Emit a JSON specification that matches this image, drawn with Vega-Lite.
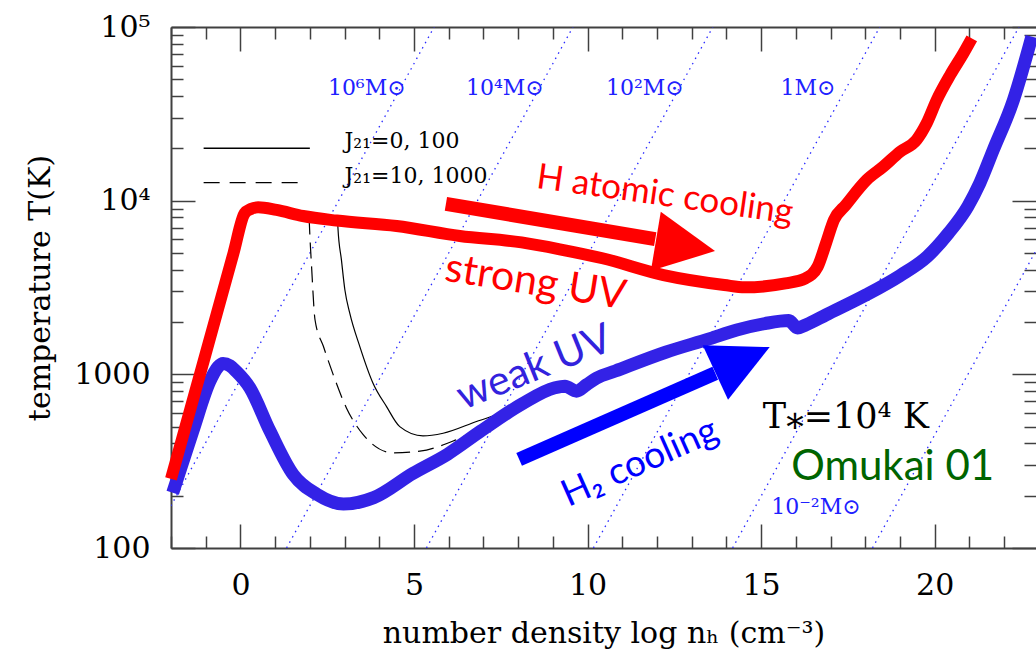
{
  "$schema": "https://vega.github.io/schema/vega-lite/v6.json",
  "width": 865,
  "height": 521,
  "autosize": {"type": "none"},
  "padding": {"left": 171, "top": 27, "right": 0, "bottom": 116},
  "background": "white",
  "config": {"view": {"stroke": null}},
  "resolve": {"axis": {"x": "independent", "y": "independent"}},
  "datasets": {
    "jeans": [
      {"id": "a", "x": -2.67, "T": 100}, {"id": "a", "x": 5.58, "T": 100000},
      {"id": "b", "x": 1.33, "T": 100}, {"id": "b", "x": 9.58, "T": 100000},
      {"id": "c", "x": 5.36, "T": 100}, {"id": "c", "x": 13.61, "T": 100000},
      {"id": "d", "x": 10.17, "T": 100}, {"id": "d", "x": 18.42, "T": 100000},
      {"id": "e", "x": 14.18, "T": 100}, {"id": "e", "x": 22.43, "T": 100000},
      {"id": "f", "x": 18.21, "T": 100}, {"id": "f", "x": 26.46, "T": 100000}
    ],
    "red": [
      {"x": -2.0, "T": 250}, {"x": -1.0, "T": 1315}, {"x": -0.2, "T": 4980}, {"x": 0.12, "T": 8450},
      {"x": 0.3, "T": 8950}, {"x": 0.51, "T": 9160}, {"x": 1.04, "T": 8840}, {"x": 1.8, "T": 8160},
      {"x": 2.77, "T": 7680}, {"x": 4.5, "T": 7150}, {"x": 6.32, "T": 6260}, {"x": 8.1, "T": 5750},
      {"x": 9.2, "T": 5250}, {"x": 10.43, "T": 4660}, {"x": 12.19, "T": 3730}, {"x": 13.94, "T": 3270},
      {"x": 14.53, "T": 3170}, {"x": 15.7, "T": 3340}, {"x": 16.28, "T": 3570}, {"x": 16.63, "T": 4170},
      {"x": 16.87, "T": 5690}, {"x": 17.1, "T": 7750}, {"x": 17.44, "T": 9440}, {"x": 18.04, "T": 13150},
      {"x": 18.52, "T": 15700}, {"x": 19.0, "T": 19100}, {"x": 19.48, "T": 22400}, {"x": 19.77, "T": 27900},
      {"x": 20.06, "T": 38000}, {"x": 20.45, "T": 53000}, {"x": 20.83, "T": 70600}, {"x": 21.07, "T": 86000}
    ],
    "blue": [
      {"x": -1.95, "T": 208}, {"x": -1.37, "T": 472}, {"x": -0.88, "T": 912}, {"x": -0.65, "T": 1100},
      {"x": -0.5, "T": 1156}, {"x": -0.3, "T": 1120}, {"x": -0.12, "T": 1040}, {"x": 0.27, "T": 837},
      {"x": 0.85, "T": 472}, {"x": 1.52, "T": 265}, {"x": 2.2, "T": 204}, {"x": 2.97, "T": 179},
      {"x": 3.84, "T": 195}, {"x": 4.97, "T": 269}, {"x": 5.97, "T": 347}, {"x": 6.93, "T": 472},
      {"x": 8.09, "T": 671}, {"x": 9.06, "T": 837}, {"x": 9.35, "T": 855}, {"x": 9.68, "T": 800},
      {"x": 9.97, "T": 871}, {"x": 10.26, "T": 951}, {"x": 10.8, "T": 1045}, {"x": 12.25, "T": 1340},
      {"x": 13.5, "T": 1600}, {"x": 14.3, "T": 1800}, {"x": 15.11, "T": 1960}, {"x": 15.8, "T": 2040},
      {"x": 16.05, "T": 1850}, {"x": 16.3, "T": 1930}, {"x": 16.87, "T": 2200}, {"x": 18.03, "T": 2870},
      {"x": 19.0, "T": 3700}, {"x": 19.79, "T": 4770}, {"x": 20.4, "T": 6500}, {"x": 20.96, "T": 9300},
      {"x": 21.3, "T": 12600}, {"x": 21.69, "T": 19600}, {"x": 22.27, "T": 38000}, {"x": 22.8, "T": 88000}
    ],
    "solid": [
      {"x": 2.8, "T": 7650}, {"x": 2.81, "T": 6930}, {"x": 2.91, "T": 4560}, {"x": 3.01, "T": 3060},
      {"x": 3.15, "T": 2250}, {"x": 3.44, "T": 1445}, {"x": 3.82, "T": 889}, {"x": 4.21, "T": 652},
      {"x": 4.59, "T": 500}, {"x": 5.26, "T": 442}, {"x": 5.84, "T": 458}, {"x": 6.8, "T": 535},
      {"x": 7.76, "T": 624}, {"x": 8.3, "T": 700}
    ],
    "dashed": [
      {"x": 1.98, "T": 7900}, {"x": 2.0, "T": 6350}, {"x": 2.05, "T": 4170}, {"x": 2.15, "T": 2055},
      {"x": 2.39, "T": 1450}, {"x": 2.67, "T": 1000}, {"x": 3.05, "T": 643}, {"x": 3.53, "T": 451},
      {"x": 4.4, "T": 353}, {"x": 5.17, "T": 361}, {"x": 6.13, "T": 413}, {"x": 7.28, "T": 538},
      {"x": 7.7, "T": 590}
    ]
  },
  "encoding": {
    "x": {"field": "x", "type": "quantitative", "scale": {"domain": [-2, 22.92], "nice": false, "zero": false}, "axis": null},
    "y": {"field": "T", "type": "quantitative", "scale": {"type": "log", "domain": [100, 100000], "nice": false}, "axis": null}
  },
  "layer": [
    {
      "data": {"name": "jeans"},
      "mark": {"type": "line", "clip": true, "color": "#2a2aff", "strokeWidth": 1.3, "strokeDash": [1.5, 4.5]},
      "encoding": {
        "detail": {"field": "id"},
        "x": {"field": "x", "type": "quantitative", "scale": {"domain": [-2, 22.92], "nice": false, "zero": false},
          "axis": {"orient": "bottom", "values": [-2,-1,0,1,2,3,4,5,6,7,8,9,10,11,12,13,14,15,16,17,18,19,20,21,22],
            "labelExpr": "datum.value % 5 === 0 ? datum.label : ''",
            "tickSize": {"condition": {"test": "datum.value % 5 === 0", "value": -24}, "value": -12},
            "labelPadding": 46, "labelFont": "DejaVu Serif", "labelFontSize": 30, "labelColor": "black",
            "grid": false, "domainColor": "#404040", "domainWidth": 2, "tickColor": "#404040", "tickWidth": 1.5,
            "title": "number density log nₕ (cm⁻³)", "titleFont": "DejaVu Serif", "titleFontSize": 30,
            "titleFontWeight": "normal", "titleColor": "black", "titlePadding": 18}},
        "y": {"field": "T", "type": "quantitative", "scale": {"type": "log", "domain": [100, 100000], "nice": false},
          "axis": {"orient": "left",
            "values": [100,200,300,400,500,600,700,800,900,1000,2000,3000,4000,5000,6000,7000,8000,9000,10000,20000,30000,40000,50000,60000,70000,80000,90000,100000],
            "labelExpr": "datum.value == 100 ? '100' : datum.value == 1000 ? '1000' : datum.value == 10000 ? '10⁴' : datum.value == 100000 ? '10⁵' : ''",
            "tickSize": {"condition": {"test": "datum.value == 100 || datum.value == 1000 || datum.value == 10000 || datum.value == 100000", "value": -24}, "value": -12},
            "labelPadding": 45, "labelFont": "DejaVu Serif", "labelFontSize": 30, "labelColor": "black",
            "grid": false, "domainColor": "#404040", "domainWidth": 2, "tickColor": "#404040", "tickWidth": 1.5,
            "title": "temperature T(K)", "titleFont": "DejaVu Serif", "titleFontSize": 30,
            "titleFontWeight": "normal", "titleColor": "black", "titlePadding": 18}}
      }
    },
    {
      "data": {"name": "solid"},
      "mark": {"type": "line", "color": "black", "strokeWidth": 1.2, "interpolate": "monotone"},
      "encoding": {
        "x": {"field": "x", "type": "quantitative", "scale": {"domain": [-2, 22.92], "nice": false, "zero": false},
          "axis": {"orient": "top", "values": [-2,-1,0,1,2,3,4,5,6,7,8,9,10,11,12,13,14,15,16,17,18,19,20,21,22],
            "labels": false, "title": null,
            "tickSize": {"condition": {"test": "datum.value % 5 === 0", "value": -24}, "value": -12},
            "grid": false, "domainColor": "#404040", "domainWidth": 2, "tickColor": "#404040", "tickWidth": 1.5}},
        "y": {"field": "T", "type": "quantitative", "scale": {"type": "log", "domain": [100, 100000], "nice": false},
          "axis": {"orient": "right",
            "values": [100,200,300,400,500,600,700,800,900,1000,2000,3000,4000,5000,6000,7000,8000,9000,10000,20000,30000,40000,50000,60000,70000,80000,90000,100000],
            "labels": false, "title": null, "domain": false,
            "tickSize": {"condition": {"test": "datum.value == 100 || datum.value == 1000 || datum.value == 10000 || datum.value == 100000", "value": -24}, "value": -12},
            "grid": false, "tickColor": "#404040", "tickWidth": 1.5}}
      }
    },
    {
      "data": {"name": "dashed"},
      "mark": {"type": "line", "color": "black", "strokeWidth": 1.2, "interpolate": "monotone", "strokeDash": [16, 8]}
    },
    {
      "data": {"values": [{"x": -1.06, "T": 20050}, {"x": 2.0, "T": 20050}]},
      "mark": {"type": "line", "color": "black", "strokeWidth": 1.4}
    },
    {
      "data": {"values": [{"x": -1.06, "T": 12700}, {"x": 1.71, "T": 12700}]},
      "mark": {"type": "line", "color": "black", "strokeWidth": 1.4, "strokeDash": [16, 10]}
    },
    {
      "data": {"name": "blue"},
      "mark": {"type": "line", "color": "#3322e6", "strokeWidth": 13, "interpolate": "monotone", "strokeCap": "butt", "strokeJoin": "round"}
    },
    {
      "data": {"name": "red"},
      "mark": {"type": "line", "color": "#ff0000", "strokeWidth": 12, "interpolate": "monotone", "strokeCap": "butt", "strokeJoin": "round"}
    },
    {
      "data": {"values": [{"x": 5.92, "T": 9580}, {"x": 11.95, "T": 6000}]},
      "mark": {"type": "line", "color": "#ff0000", "strokeWidth": 14, "strokeCap": "butt"}
    },
    {
      "data": {"values": [{"x": 12.82, "T": 5470}]},
      "mark": {"type": "point", "shape": "M-1,-1L1,0L-1,1Z", "size": 3600, "angle": 9.5, "filled": true, "color": "#ff0000", "opacity": 1}
    },
    {
      "data": {"values": [{"x": 8.03, "T": 324}, {"x": 13.68, "T": 1014}]},
      "mark": {"type": "line", "color": "#0000ff", "strokeWidth": 14, "strokeCap": "butt"}
    },
    {
      "data": {"values": [{"x": 14.466, "T": 1213}]},
      "mark": {"type": "point", "shape": "M-1,-1L1,0L-1,1Z", "size": 3600, "angle": -25, "filled": true, "color": "#0000ff", "opacity": 1}
    },
    {
      "data": {"values": [
        {"x": 3.64, "T": 44600, "label": "10⁶M⊙"},
        {"x": 7.62, "T": 44600, "label": "10⁴M⊙"},
        {"x": 11.65, "T": 44600, "label": "10²M⊙"},
        {"x": 16.35, "T": 44600, "label": "1M⊙"},
        {"x": 16.58, "T": 172.6, "label": "10⁻²M⊙"}
      ]},
      "mark": {"type": "text", "font": "DejaVu Serif", "fontSize": 22, "color": "#2020ff", "align": "center", "baseline": "middle"},
      "encoding": {"text": {"field": "label"}}
    },
    {
      "data": {"values": [
        {"x": 3.0, "T": 20050, "label": "J₂₁=0,  100"},
        {"x": 3.0, "T": 12700, "label": "J₂₁=10,  1000"}
      ]},
      "mark": {"type": "text", "font": "DejaVu Serif", "fontSize": 22, "color": "black", "align": "left", "baseline": "alphabetic"},
      "encoding": {"text": {"field": "label"}}
    },
    {
      "data": {"values": [{"x": 15.05, "T": 491.6, "label": "T⁎=10⁴ K"}]},
      "mark": {"type": "text", "font": "DejaVu Serif", "fontSize": 35, "color": "black", "align": "left", "baseline": "alphabetic"},
      "encoding": {"text": {"field": "label"}}
    },
    {
      "data": {"values": [{"x": 18.79, "T": 293, "label": "Omukai 01"}]},
      "mark": {"type": "text", "font": "Lato", "fontSize": 42, "color": "#006400", "align": "center", "baseline": "middle"},
      "encoding": {"text": {"field": "label"}}
    },
    {
      "data": {"values": [{"x": 12.23, "T": 10800, "label": "H atomic cooling"}]},
      "mark": {"type": "text", "font": "Lato", "fontSize": 35, "color": "#ff0000", "align": "center", "baseline": "middle", "angle": 8},
      "encoding": {"text": {"field": "label"}}
    },
    {
      "data": {"values": [{"x": 8.5, "T": 3360, "label": "strong UV"}]},
      "mark": {"type": "text", "font": "Lato", "fontSize": 41, "color": "#ff0000", "align": "center", "baseline": "middle", "angle": 9},
      "encoding": {"text": {"field": "label"}}
    },
    {
      "data": {"values": [{"x": 8.48, "T": 1084, "label": "weak UV"}]},
      "mark": {"type": "text", "font": "Lato", "fontSize": 41, "color": "#3322dd", "align": "center", "baseline": "middle", "angle": -22},
      "encoding": {"text": {"field": "label"}}
    },
    {
      "data": {"values": [{"x": 11.51, "T": 309, "label": "H₂ cooling"}]},
      "mark": {"type": "text", "font": "Lato", "fontSize": 37, "color": "#0000ff", "align": "center", "baseline": "middle", "angle": -24},
      "encoding": {"text": {"field": "label"}}
    }
  ]
}
